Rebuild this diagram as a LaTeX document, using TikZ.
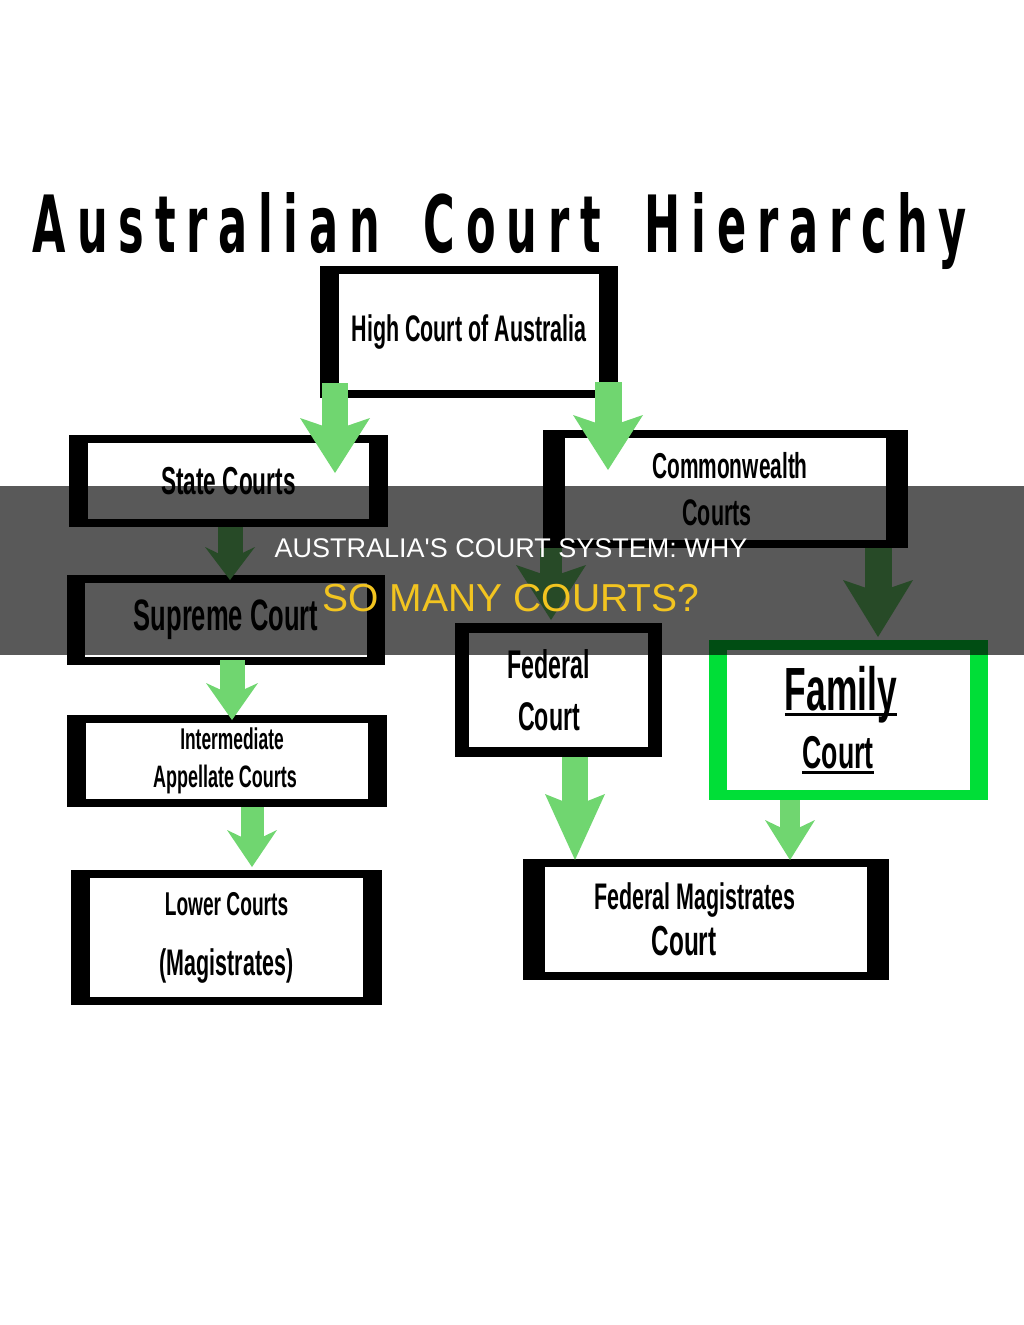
\documentclass[tikz,border=0pt]{standalone}
\usepackage{fontspec}
\usepackage{graphicx}
\setmainfont{Liberation Sans}
\newfontfamily\courtfont{Liberation Sans}[FakeStretch=0.58]
\newfontfamily\titlefont{DejaVu Sans}[FakeStretch=0.6,LetterSpace=15]
\usetikzlibrary{arrows.meta, positioning}

\definecolor{arrowgreen}{RGB}{112,214,112}
\definecolor{famgreen}{RGB}{0,222,55}
\definecolor{bannergold}{RGB}{242,196,32}

% underline that sits close to the baseline
\newcommand{\courtul}[1]{\setbox0\hbox{#1}\rlap{\rule[-5pt]{\wd0}{2.5pt}}\box0}
% condensed bold at a given size and line distance
\newcommand{\courtsize}[2]{\courtfont\bfseries\fontsize{#1}{#2}\selectfont}

\begin{document}
\begin{tikzpicture}[
    x=1pt, y=-1pt,
    courtbox/.style={draw=black, fill=white, line width=8pt, inner sep=0pt, align=center},
    flow/.style n args={3}{draw=arrowgreen, line width=#1, -{Stealth[length=#3, width=#2, inset=12pt, line width=0pt]}},
    banner/.style={font=\fontsize{27}{30}\selectfont, text=white, inner sep=0pt, anchor=base}
]

\fill[white] (0,0) rectangle (1024,1325);
\useasboundingbox (0,0) rectangle (1024,1325);

% title
\node[inner sep=0pt, anchor=base] (title) at (500,252)
    {\resizebox{934pt}{60pt}{\titlefont\bfseries Australian\hspace{0.25em} Court\hspace{0.25em} Hierarchy}};

% courts
\node[courtbox, minimum width=290pt, minimum height=124pt, font=\courtsize{37}{40}] (high) at (469,332)
    {High Court of Australia};
\node[courtbox, minimum width=311pt, minimum height=84pt, font=\courtsize{39}{42}] (state) at (228.5,481)
    {State Courts};
\node[courtbox, minimum width=310pt, minimum height=82pt, font=\courtsize{44}{48}] (supreme) at (226,620)
    {Supreme Court};
\node[courtbox, minimum width=312pt, minimum height=84pt, font=\courtsize{30}{38}] (inter) at (227,761)
    {\hspace*{10pt}Intermediate\\
     \fontsize{31}{38}\selectfont\hspace*{-4pt}Appellate Courts};
\node[courtbox, minimum width=303pt, minimum height=127pt, font=\courtsize{33}{60}] (lower) at (226.5,937.5)
    {Lower Courts\\
     \fontsize{37}{60}\selectfont (Magistrates)};
\node[courtbox, minimum width=357pt, minimum height=110pt, font=\courtsize{36}{47}] (comm) at (725.5,489)
    {\hspace*{9pt}Commonwealth\\
     \fontsize{37}{47}\selectfont\hspace*{-17pt}Courts};
\node[courtbox, line width=10pt, minimum width=197pt, minimum height=124pt, font=\courtsize{40}{52}] (federal) at (558.5,690)
    {\hspace*{-19pt}Federal\\
     \hspace*{-19pt}Court};
\node[courtbox, draw=famgreen, line width=10pt, minimum width=269pt, minimum height=150pt, font=\courtsize{61}{58}] (family) at (848.5,720)
    {\hspace*{-15pt}\courtul{Family}\\
     \fontsize{46}{58}\selectfont\hspace*{-21pt}\courtul{Court}};
\node[courtbox, minimum width=358pt, minimum height=113pt, font=\courtsize{37}{46}] (fmc) at (706,919.5)
    {\hspace*{-22pt}Federal Magistrates\\
     \fontsize{42}{46}\selectfont\hspace*{-44pt}Court};

% heavy side bars
\foreach \n/\sw/\c in {high/19/black, state/19/black, supreme/18/black, inter/19/black,
                       lower/19/black, comm/22/black, federal/14/black, family/18/famgreen, fmc/22/black}
{
    \fill[\c] (\n.north west) rectangle ([xshift=\sw*1pt]\n.south west);
    \fill[\c] ([xshift=-\sw*1pt]\n.north east) rectangle (\n.south east);
}

% arrows
\draw[flow={26pt}{70pt}{55pt}] ([yshift=15pt]high.south -| 335,0) -- ([yshift=-38pt]state.north -| 335,0);
\draw[flow={27pt}{70pt}{55pt}] ([yshift=16pt]high.south -| 608,0) -- ([yshift=-40pt]comm.north -| 608,0);
\draw[flow={25pt}{50pt}{33pt}] (state.south -| 230,0) -- ([yshift=-5pt]supreme.north -| 230,0);
\draw[flow={25pt}{52pt}{37pt}] ([yshift=5pt]supreme.south -| 232,0) -- ([yshift=-5pt]inter.north -| 232,0);
\draw[flow={23pt}{50pt}{37pt}] (inter.south -| 252,0) -- ([yshift=3pt]lower.north -| 252,0);
\draw[flow={22pt}{70pt}{55pt}] (comm.south -| 551,0) -- ([yshift=3pt]federal.north -| 551,0);
\draw[flow={27pt}{70pt}{57pt}] (comm.south -| 878,0) -- ([yshift=3pt]family.north -| 878,0);
\draw[flow={26pt}{60pt}{66pt}] (federal.south -| 575,0) -- ([yshift=-1pt]fmc.north -| 575,0);
\draw[flow={20pt}{50pt}{40pt}] (family.south -| 790,0) -- ([yshift=-1pt]fmc.north -| 790,0);

% banner
\fill[black, opacity=0.65] (0,486) rectangle (1024,655);
\node[banner] (headline) at (511,557) {AUSTRALIA\textquotesingle S COURT SYSTEM: WHY};
\node[banner, text=bannergold, font=\fontsize{39}{42}\selectfont] (question) at (511,611) {SO MANY COURTS?};

\end{tikzpicture}
\end{document}
